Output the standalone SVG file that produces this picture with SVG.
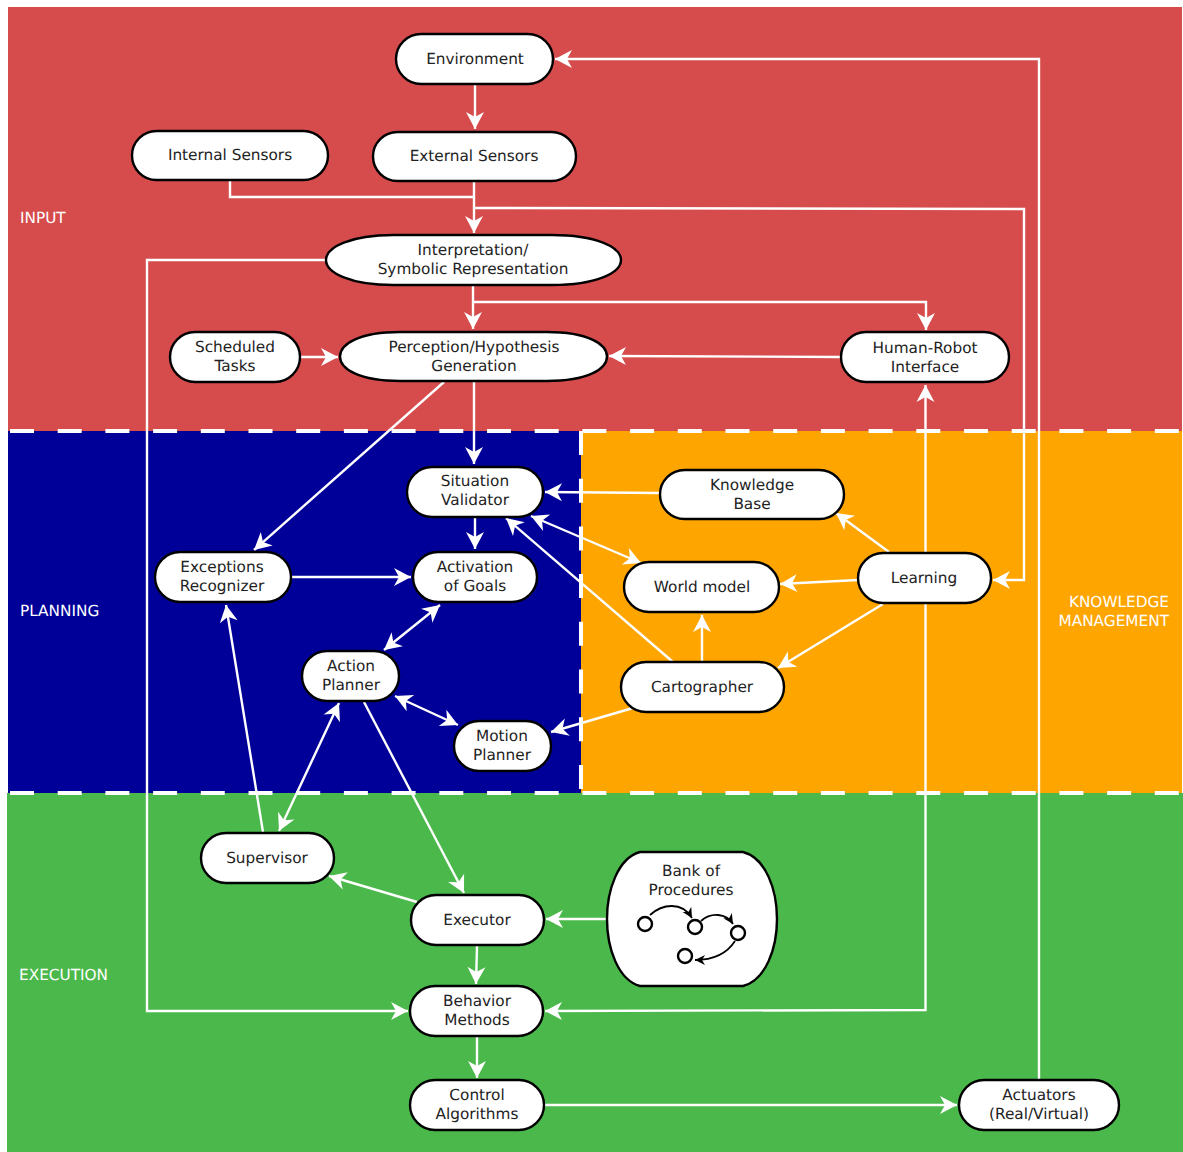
<svg xmlns="http://www.w3.org/2000/svg" width="1183" height="1152" viewBox="0 0 1183 1152">
<style>
text{font-family:"DejaVu Sans",sans-serif;font-size:15.300px;text-anchor:middle;fill:#222;text-rendering:geometricPrecision}
.lbl{fill:#fff;text-anchor:start}
.n{fill:#fff;stroke:#000;stroke-width:2.400}
.c{fill:none;stroke:#fff;stroke-width:2.400}
.a{marker-end:url(#ah)}
.b{marker-start:url(#as);marker-end:url(#ah)}
.d{fill:none;stroke:#fff;stroke-width:4;stroke-dasharray:24 23.700}
.s{fill:none;stroke:#000;stroke-width:1.800}
.o{fill:#fff;stroke:#000;stroke-width:2.400}
</style>
<defs>
<marker id="ah" markerUnits="userSpaceOnUse" viewBox="-18 -10 20 20" refX="0" refY="0" markerWidth="20" markerHeight="20" orient="auto"><path d="M0 0L-17 -9L-12 0L-17 9Z" fill="#fff"/></marker>
<marker id="as" markerUnits="userSpaceOnUse" viewBox="-2 -10 20 20" refX="0" refY="0" markerWidth="20" markerHeight="20" orient="auto"><path d="M0 0L17 -9L12 0L17 9Z" fill="#fff"/></marker>
<marker id="sm" markerUnits="userSpaceOnUse" viewBox="-11 -6 12 12" refX="0" refY="0" markerWidth="12" markerHeight="12" orient="auto"><path d="M0 0L-10 -5L-7 0L-10 5Z" fill="#000"/></marker>
</defs>
<g id="bands">
<rect x="8" y="7" width="1174" height="424" fill="#d64c4c"/>
<rect x="8" y="431" width="573" height="362" fill="#000099"/>
<rect x="581" y="431" width="601" height="362" fill="#ffa500"/>
<rect x="7" y="793" width="1176" height="359" fill="#4bb84b"/>
<path class="d" d="M10 431H1182"/>
<path class="d" d="M10 793H1182"/>
<path class="d" d="M581 431V793"/>
<text class="lbl" x="20" y="222.500">INPUT</text>
<text class="lbl" x="20" y="615.500">PLANNING</text>
<text class="lbl" x="19" y="979.500">EXECUTION</text>
<text x="1169" y="606.500" style="fill:#fff;text-anchor:end">KNOWLEDGE</text>
<text x="1169" y="625.500" style="fill:#fff;text-anchor:end">MANAGEMENT</text>
</g>
<g id="connectors">
<path class="c a" d="M475 85V129"/>
<path class="c" d="M230 181V197H474"/>
<path class="c a" d="M474 182V233"/>
<path class="c a" d="M474 208L1024 209V580H993"/>
<path class="c a" d="M473 286V329"/>
<path class="c a" d="M473 302H926V330"/>
<path class="c a" d="M326 260H147V1011H408"/>
<path class="c a" d="M301 357H338"/>
<path class="c a" d="M841 357L609 356"/>
<path class="c a" d="M474 382V464"/>
<path class="c a" d="M444 382L254 550"/>
<path class="c a" d="M660 493L545 492"/>
<path class="c a" d="M475 518V549"/>
<path class="c a" d="M292 577H411"/>
<path class="c b" d="M531 516L641 563"/>
<path class="c a" d="M673 662L506 518"/>
<path class="c a" d="M889 552L836 513"/>
<path class="c a" d="M858 580L780 584"/>
<path class="c a" d="M883 604L778 668"/>
<path class="c a" d="M702 662V615"/>
<path class="c a" d="M633 708L551 732"/>
<path class="c b" d="M384 650L440 605"/>
<path class="c b" d="M395 696L458 725"/>
<path class="c a" d="M364 702L464 893"/>
<path class="c b" d="M339 703L279 831"/>
<path class="c a" d="M263 832L226 605"/>
<path class="c a" d="M417 902L329 876"/>
<path class="c a" d="M607 919L546 919"/>
<path class="c a" d="M477 946L476 984"/>
<path class="c a" d="M477 1037V1078"/>
<path class="c a" d="M545 1105H957"/>
<path class="c a" d="M1039 1079V59H555"/>
<path class="c a" d="M925.500 553V385"/>
<path class="c a" d="M925.500 604V1010L545 1011"/>
</g>
<g id="environment"><rect class="n" x="396" y="34" width="157" height="50" rx="25"/><text x="475" y="63.500">Environment</text></g>
<g id="internal-sensors"><rect class="n" x="132" y="131" width="196" height="49" rx="24.500"/><text x="230" y="160">Internal Sensors</text></g>
<g id="external-sensors"><rect class="n" x="373" y="132" width="203" height="49" rx="24.500"/><text x="474" y="161">External Sensors</text></g>
<g id="interpretation"><path class="n" d="M393 235H552C596 235 621 247 621 260C621 273 596 285 552 285H393C351 285 326 273 326 260C326 247 351 235 393 235Z"/><text x="473" y="255">Interpretation/</text><text x="473" y="274">Symbolic Representation</text></g>
<g id="scheduled-tasks"><rect class="n" x="170" y="332" width="130" height="50" rx="25"/><text x="235" y="352">Scheduled</text><text x="235" y="371">Tasks</text></g>
<g id="perception"><path class="n" d="M400 332H547C588 332 607 344 607 356.500C607 369 588 381 547 381H400C359 381 340 369 340 356.500C340 344 359 332 400 332Z"/><text x="474" y="352">Perception/Hypothesis</text><text x="474" y="371">Generation</text></g>
<g id="hri"><rect class="n" x="841" y="332" width="168" height="50" rx="25"/><text x="925" y="353">Human-Robot</text><text x="925" y="372">Interface</text></g>
<g id="situation-validator"><rect class="n" x="407" y="467" width="136" height="50" rx="25"/><text x="475" y="486">Situation</text><text x="475" y="505">Validator</text></g>
<g id="knowledge-base"><rect class="n" x="660" y="470" width="184" height="49" rx="24.500"/><text x="752" y="490">Knowledge</text><text x="752" y="509">Base</text></g>
<g id="exceptions-recognizer"><rect class="n" x="155" y="552" width="136" height="50" rx="25"/><text x="222" y="572">Exceptions</text><text x="222" y="591">Recognizer</text></g>
<g id="activation-of-goals"><rect class="n" x="413" y="552" width="124" height="50" rx="25"/><text x="475" y="572">Activation</text><text x="475" y="591">of Goals</text></g>
<g id="world-model"><rect class="n" x="624" y="562" width="155" height="50" rx="25"/><text x="702" y="592">World model</text></g>
<g id="learning"><rect class="n" x="858" y="553" width="133" height="50" rx="25"/><text x="924" y="583">Learning</text></g>
<g id="action-planner"><rect class="n" x="302" y="651" width="97" height="50" rx="25"/><text x="351" y="671">Action</text><text x="351" y="690">Planner</text></g>
<g id="cartographer"><rect class="n" x="621" y="662" width="163" height="50" rx="25"/><text x="702" y="692">Cartographer</text></g>
<g id="motion-planner"><rect class="n" x="454" y="721" width="97" height="50" rx="25"/><text x="502" y="741">Motion</text><text x="502" y="760">Planner</text></g>
<g id="supervisor"><rect class="n" x="201" y="833" width="133" height="50" rx="25"/><text x="267" y="863">Supervisor</text></g>
<g id="executor"><rect class="n" x="411" y="895" width="133" height="50" rx="25"/><text x="477" y="925">Executor</text></g>
<g id="bank-of-procedures">
<path class="n" d="M640 852H743C766 858 777 890 777 919C777 948 766 980 743 986H640C618 980 607 948 607 919C607 890 618 858 640 852Z"/>
<text x="691" y="876">Bank of</text><text x="691" y="895">Procedures</text>
<path class="s" d="M650 915C662 904 682 901 692 918" marker-end="url(#sm)"/>
<path class="s" d="M701 921C711 912 726 913 733 924" marker-end="url(#sm)"/>
<path class="s" d="M735 941C726 955 712 960 695 960" marker-end="url(#sm)"/>
<circle class="o" cx="645" cy="924" r="7"/>
<circle class="o" cx="695" cy="927" r="7"/>
<circle class="o" cx="738" cy="933" r="7"/>
<circle class="o" cx="685" cy="956" r="7"/>
</g>
<g id="behavior-methods"><rect class="n" x="410" y="986" width="133" height="50" rx="25"/><text x="477" y="1006">Behavior</text><text x="477" y="1025">Methods</text></g>
<g id="control-algorithms"><rect class="n" x="410" y="1080" width="134" height="50" rx="25"/><text x="477" y="1100">Control</text><text x="477" y="1119">Algorithms</text></g>
<g id="actuators"><rect class="n" x="959" y="1080" width="160" height="50" rx="25"/><text x="1039" y="1100">Actuators</text><text x="1039" y="1119">(Real/Virtual)</text></g>
</svg>
